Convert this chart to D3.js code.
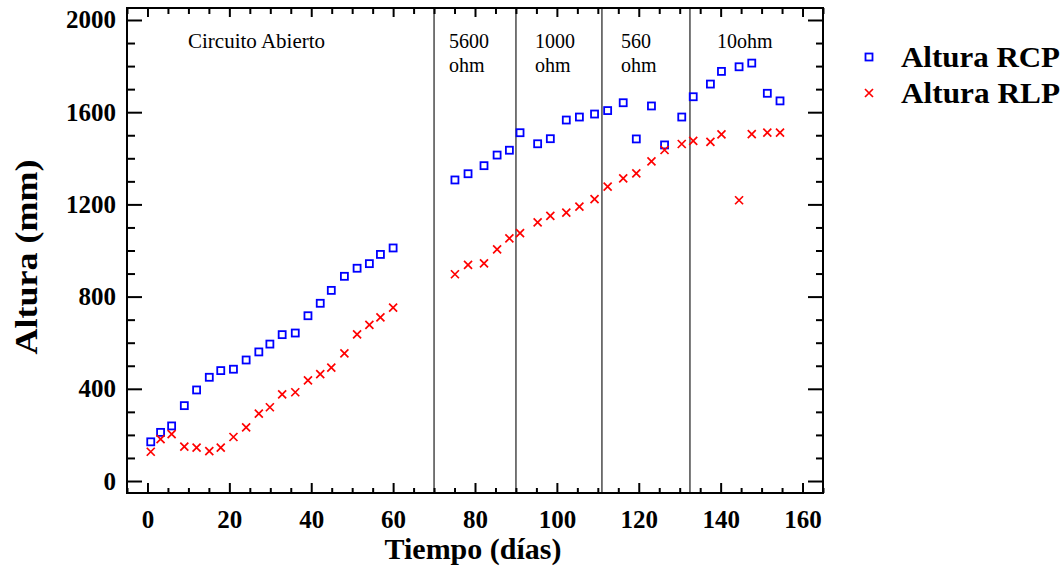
<!DOCTYPE html>
<html><head><meta charset="utf-8">
<script src="https://cdn.jsdelivr.net/npm/d3@7"></script>
<style>body{margin:0;background:#fff}svg{display:block}
svg text{font-family:"Liberation Serif","Times New Roman",Times,serif !important}</style>
</head><body>
<svg id="c" width="1064" height="576"></svg>
<script>
const days = [0.8,3.2,5.9,9.0,12.0,15.1,17.9,21.0,24.1,27.2,29.9,32.9,36.1,39.2,42.2,44.9,48.1,51.2,54.2,56.9,60.0,
  75.1,78.3,82.2,85.4,88.4,91.0,95.3,98.4,102.3,105.5,109.2,112.4,116.2,119.4,123.1,126.3,130.5,133.3,137.5,140.2,144.5,147.6,151.4,154.5];
const alturaRCP = [170,211,239,327,395,450,479,485,525,560,594,635,642,717,771,827,888,923,943,983,1011,
  1306,1333,1368,1414,1435,1511,1463,1485,1566,1579,1592,1607,1641,1484,1627,1458,1579,1667,1722,1777,1797,1813,1682,1649];
const alturaRLP = [127,182,203,149,145,130,145,191,233,292,320,376,385,437,464,492,554,636,677,710,752,
  897,938,944,1005,1053,1075,1122,1150,1164,1190,1223,1277,1313,1335,1387,1436,1462,1476,1471,1504,1218,1505,1511,1511];
const xTicks = [0,20,40,60,80,100,120,140,160];
const yTicks = [0,400,800,1200,1600,2000];
const dividers = [70,90,111,132.5];
const regionLabels = [
  {x:188, lines:["Circuito Abierto"]},
  {x:449, lines:["5600","ohm"]},
  {x:535, lines:["1000","ohm"]},
  {x:621, lines:["560","ohm"]},
  {x:717, lines:["10ohm"]}
];
const seriesNames = ["Altura RCP","Altura RLP"];

const svg = d3.select("#c");
const L=127,R=823,T=8,B=493;
const x = d3.scaleLinear().domain([-5,165]).range([L,R]);
const y = d3.scaleLinear().domain([-52,2052]).range([B,T]);
const serif = "Liberation Serif";
const xMinor = d3.range(-5,166,5).filter(v=>v%20!==0);
const yMinor = d3.range(0,2001,100).filter(v=>v%400!==0);

// divider lines
svg.append("g").selectAll("line").data(dividers).join("line")
  .attr("x1",d=>x(d)).attr("x2",d=>x(d)).attr("y1",T).attr("y2",B)
  .attr("stroke","#555").attr("stroke-width",1.6);

function styleAxis(g){ g.attr("font-family",null); g.select(".domain").remove(); g.selectAll("line").attr("stroke","#000").attr("stroke-width",2);
  g.selectAll("text").style("font-family",serif).attr("font-weight","bold").attr("font-size",25).attr("fill","#000"); }

// bottom
svg.append("g").attr("transform",`translate(0,${B})`).call(d3.axisBottom(x).tickValues(xTicks).tickSize(-10).tickPadding(17).tickFormat(d3.format("d"))).call(styleAxis);
svg.append("g").attr("transform",`translate(0,${B})`).call(d3.axisBottom(x).tickValues(xMinor).tickSize(-5).tickFormat("")).call(styleAxis);
// top
svg.append("g").attr("transform",`translate(0,${T})`).call(d3.axisTop(x).tickValues(xTicks).tickSize(-9).tickFormat("")).call(styleAxis);
svg.append("g").attr("transform",`translate(0,${T})`).call(d3.axisTop(x).tickValues(xMinor).tickSize(-6).tickFormat("")).call(styleAxis);
// left
svg.append("g").attr("transform",`translate(${L},0)`).call(d3.axisLeft(y).tickValues(yTicks).tickSize(-15).tickPadding(11).tickFormat(d3.format("d"))).call(styleAxis);
svg.append("g").attr("transform",`translate(${L},0)`).call(d3.axisLeft(y).tickValues(yMinor).tickSize(-8).tickFormat("")).call(styleAxis);
// right
svg.append("g").attr("transform",`translate(${R},0)`).call(d3.axisRight(y).tickValues(yTicks).tickSize(-15).tickFormat("")).call(styleAxis);
svg.append("g").attr("transform",`translate(${R},0)`).call(d3.axisRight(y).tickValues(yMinor).tickSize(-7).tickFormat("")).call(styleAxis);

// frame
svg.append("rect").attr("x",L).attr("y",T).attr("width",R-L).attr("height",B-T)
  .attr("fill","none").attr("stroke","#000").attr("stroke-width",2);

// region labels
regionLabels.forEach((r,k)=>{
  const t = svg.append("text").style("font-family",serif).attr("font-size",k===0?21:20).attr("fill","#000");
  r.lines.forEach((s,i)=>t.append("tspan").attr("x",r.x).attr("y",48+i*23.5).text(s));
});

// markers
const sq=7, cr=4;
const pts = days.map((d,i)=>({d, rcp:alturaRCP[i], rlp:alturaRLP[i]}));
svg.append("g").selectAll("rect").data(pts).join("rect")
  .attr("x",p=>x(p.d)-sq/2).attr("y",p=>y(p.rcp)-sq/2).attr("width",sq).attr("height",sq)
  .attr("fill","none").attr("stroke","#0000ff").attr("stroke-width",1.8);
const crossPath = (cx,cy)=>`M${cx-cr},${cy-cr}L${cx+cr},${cy+cr}M${cx-cr},${cy+cr}L${cx+cr},${cy-cr}`;
svg.append("g").selectAll("path").data(pts).join("path")
  .attr("d",p=>crossPath(x(p.d),y(p.rlp))).attr("stroke","#ff0000").attr("stroke-width",1.7).attr("fill","none");

// legend
svg.append("rect").attr("x",869-sq/2).attr("y",57-sq/2).attr("width",sq).attr("height",sq)
  .attr("fill","none").attr("stroke","#0000ff").attr("stroke-width",1.8);
svg.append("path").attr("d",crossPath(869,93)).attr("stroke","#ff0000").attr("stroke-width",1.7);
seriesNames.forEach((s,i)=>{
  svg.append("text").attr("x",901).attr("y",67+i*36).style("font-family",serif).attr("font-weight","bold")
    .attr("font-size",29).attr("textLength",159).attr("lengthAdjust","spacingAndGlyphs").text(s);
});

// axis titles
svg.append("text").attr("x",473).attr("y",559).attr("text-anchor","middle").style("font-family",serif)
  .attr("font-weight","bold").attr("font-size",30).text("Tiempo (días)");
svg.append("text").attr("transform","translate(37,257) rotate(-90)").attr("text-anchor","middle").style("font-family",serif)
  .attr("font-weight","bold").attr("font-size",31).attr("textLength",195).attr("lengthAdjust","spacingAndGlyphs").text("Altura (mm)");
</script>
</body></html>
